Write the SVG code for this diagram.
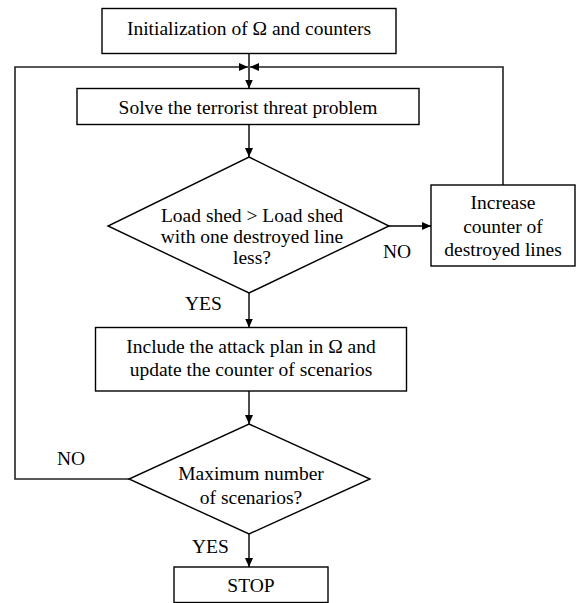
<svg xmlns="http://www.w3.org/2000/svg" width="579" height="603" viewBox="0 0 579 603">
<style>
  .box { fill: #fff; stroke: #000; stroke-width: 1.4; }
  .ln { fill: none; stroke: #000; stroke-width: 1.4; }
  .fb { fill: none; stroke: #222; stroke-width: 1.6; }
  text { font-family: "Liberation Serif", "Times New Roman", serif; font-size: 19.5px; fill: #000; }
  .c { text-anchor: middle; }
</style>
<defs>
  <marker id="arr" markerUnits="userSpaceOnUse" markerWidth="10" markerHeight="9" refX="9" refY="4" orient="auto">
    <path d="M0,0 L9,4 L0,8 z" fill="#000"/>
  </marker>
</defs>
<rect width="579" height="603" fill="#fff"/>
<g id="connectors">
  <line class="ln" x1="249" y1="53.5" x2="249" y2="88.5" marker-end="url(#arr)"/>
  <line class="ln" x1="249" y1="124.5" x2="249" y2="157" marker-end="url(#arr)"/>
  <line class="ln" x1="389" y1="226" x2="431" y2="226" marker-end="url(#arr)"/>
  <polyline class="fb" points="503,185 503,67 250,67" marker-end="url(#arr)"/>
  <polyline class="fb" points="129,479 15,479 15,67 248,67" marker-end="url(#arr)"/>
  <line class="ln" x1="249" y1="293" x2="249" y2="327.5" marker-end="url(#arr)"/>
  <line class="ln" x1="249" y1="391" x2="249" y2="424" marker-end="url(#arr)"/>
  <line class="ln" x1="249" y1="534" x2="249" y2="567" marker-end="url(#arr)"/>
</g>
<g id="init">
  <rect class="box" x="102" y="8.5" width="294" height="45"/>
  <text class="c" x="249" y="35">Initialization of Ω and counters</text>
</g>
<g id="solve">
  <rect class="box" x="77" y="88.5" width="342" height="36"/>
  <text class="c" x="248" y="113.5">Solve the terrorist threat problem</text>
</g>
<g id="decision1">
  <polygon class="box" points="249,157 389,226 249,293 108,226"/>
  <text class="c" x="252" y="221.5">Load shed &gt; Load shed</text>
  <text class="c" x="252" y="242.5">with one destroyed line</text>
  <text class="c" x="252" y="264">less?</text>
</g>
<g id="increase">
  <rect class="box" x="431" y="185" width="144" height="81"/>
  <text class="c" x="503" y="209">Increase</text>
  <text class="c" x="503" y="232.5">counter of</text>
  <text class="c" x="503" y="256">destroyed lines</text>
</g>
<g id="include">
  <rect class="box" x="95.5" y="327.5" width="311" height="63.5"/>
  <text class="c" x="251" y="353">Include the attack plan in Ω and</text>
  <text class="c" x="251" y="376">update the counter of scenarios</text>
</g>
<g id="decision2">
  <polygon class="box" points="249,424 370,479 249,534 129,479"/>
  <text class="c" x="251" y="479.5">Maximum number</text>
  <text class="c" x="251" y="503.5">of scenarios?</text>
</g>
<g id="stop">
  <rect class="box" x="174" y="567" width="154" height="35.5"/>
  <text class="c" x="251" y="591.5">STOP</text>
</g>
<g id="labels">
  <text x="383" y="258">NO</text>
  <text x="185" y="310">YES</text>
  <text x="57" y="465">NO</text>
  <text x="192" y="553">YES</text>
</g>
</svg>
